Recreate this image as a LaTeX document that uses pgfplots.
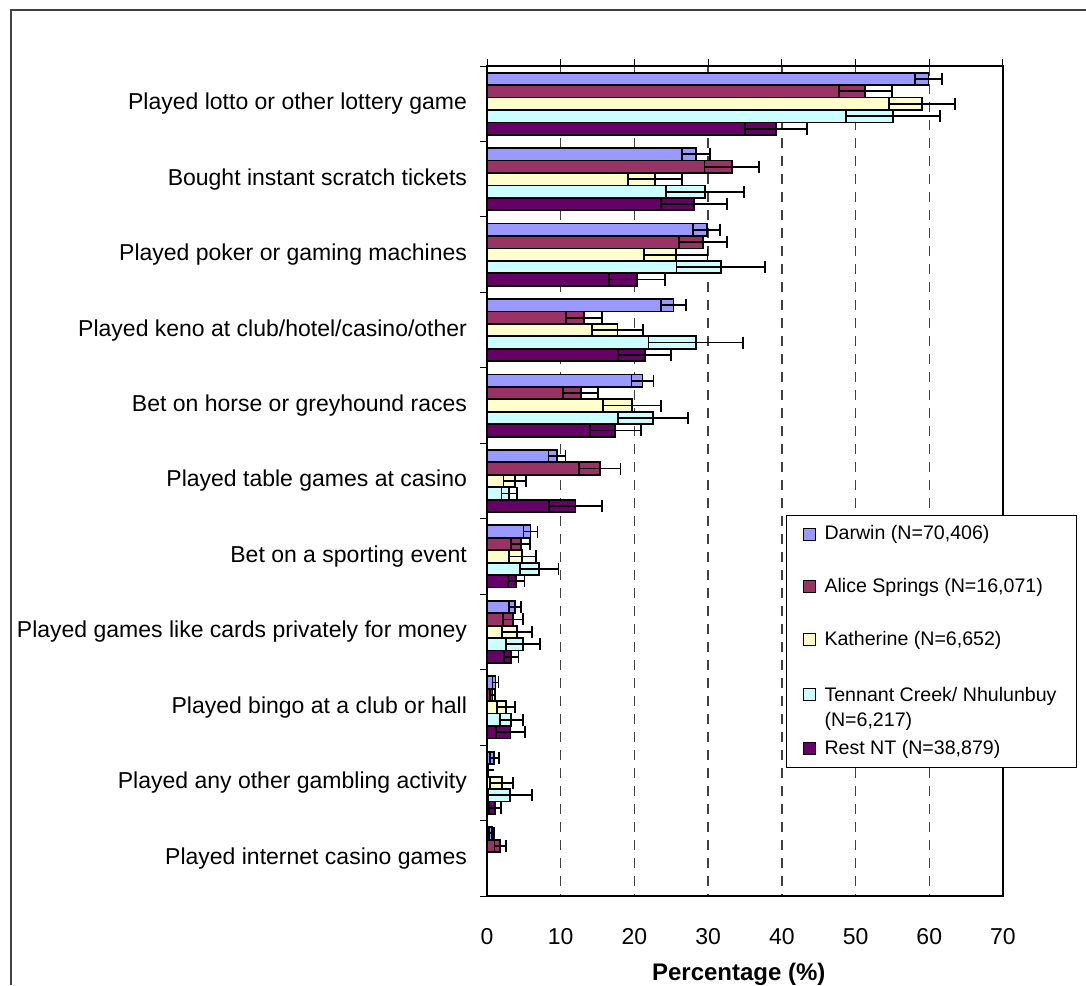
\documentclass[border=0pt]{standalone}
\usepackage{fontspec}
\setmainfont{Liberation Sans}
\usepackage{pgfplots}
\pgfplotsset{compat=1.18}

\definecolor{cDarwin}{HTML}{9999FF}
\definecolor{cAlice}{HTML}{993366}
\definecolor{cKath}{HTML}{FFFFCC}
\definecolor{cTennant}{HTML}{CCFFFF}
\definecolor{cRest}{HTML}{660066}

\newcommand{\lblfont}{\fontsize{11.5}{12.5}\selectfont}
\newcommand{\legfont}{\fontsize{9.8}{12.5}\selectfont}

\pgfplotsset{
  barstyle/.style={draw=black, line width=0.9pt, fill=#1},
  ebar/.style={error bars/.cd, x dir=both, x explicit,
    error bar style={line width=0.9pt, black},
    error mark=|,
    error mark options={rotate=0, line width=0.9pt, black, mark size=3pt}},
}

\begin{document}
\begin{tikzpicture}
\useasboundingbox (0pt,0pt) rectangle (543pt,492.5pt);
% chart area border (top and left edges)
\draw[line width=0.75pt, black!75] (5.5pt,0pt) -- (5.5pt,487.5pt) -- (543pt,487.5pt);
\begin{axis}[
  at={(243.5pt,44.5pt)}, anchor=south west,
  scale only axis, width=258pt, height=415pt,
  xbar, bar width=0.165,
  xmin=0, xmax=70, ymin=-0.5, ymax=10.5, y dir=reverse,
  xtick={0,10,...,70},
  xtick pos=right, xticklabel pos=left,
  ytick={0,...,10}, ytick pos=left,
  minor ytick={-0.5,0.5,...,10.5},
  major y tick style={draw=none},
  tick align=outside,
  major tick length=3.5pt, minor tick length=3.5pt,
  tick style={black, line width=0.5pt},
  yticklabels={
    Played lotto or other lottery game,
    Bought instant scratch tickets,
    Played poker or gaming machines,
    Played keno at club/hotel/casino/other,
    Bet on horse or greyhound races,
    Played table games at casino,
    Bet on a sporting event,
    Played games like cards privately for money,
    Played bingo at a club or hall,
    Played any other gambling activity,
    Played internet casino games},
  ticklabel style={font=\lblfont},
  yticklabel style={xshift=-3pt},
  xticklabel style={yshift=-9pt},
  /pgf/number format/assume math mode=true,
  xmajorgrids,
  grid style={dash pattern=on 5pt off 4pt, black!75, line width=0.7pt},
  axis line style={line width=1pt},
  xlabel={\textbf{Percentage (\%)}},
  xlabel style={font=\fontsize{12}{14}\selectfont, at={(axis description cs:0.488,0)}, anchor=center, yshift=-39pt},
  legend image code/.code={\draw[#1, line width=0.5pt] (4.5pt,-3pt) rectangle (10.5pt,3pt);},
  legend style={at={(0.5795,0.459)}, anchor=north west, draw=black, line width=0.5pt,
    font=\legfont, row sep=13.8pt, column sep=2.5pt, inner xsep=8pt, inner ysep=3pt,
    cells={anchor=west, align=left}},
]
% Darwin
\addplot[barstyle=cDarwin, bar shift=-0.33, ebar] table[x=v, y=c, x error=e] {
c v e
0 59.9 1.8
1 28.35 1.85
2 29.8 1.8
3 25.3 1.65
4 21.1 1.5
5 9.5 1.15
6 5.9 0.95
7 3.8 0.77
8 1.15 0.4
9 1.0 0.6
10 0.65 0.35
};
% Alice Springs
\addplot[barstyle=cAlice, bar shift=-0.165, ebar] table[x=v, y=c, x error=e] {
c v e
0 51.3 3.6
1 33.2 3.7
2 29.3 3.3
3 13.15 2.4
4 12.7 2.35
5 15.3 2.8
6 4.57 1.3
7 3.55 1.35
8 0.75 0.35
9 0.2 0
10 1.8 0.77
};
% Katherine
\addplot[barstyle=cKath, bar shift=0, ebar] table[x=v, y=c, x error=e] {
c v e
0 59.0 4.45
1 22.8 3.7
2 25.6 4.3
3 17.7 3.5
4 19.7 3.95
5 3.75 1.5
6 4.8 1.8
7 4.05 2.05
8 2.6 1.2
9 2.0 1.55
};
% Tennant Creek / Nhulunbuy
\addplot[barstyle=cTennant, bar shift=0.165, ebar] table[x=v, y=c, x error=e] {
c v e
0 55.1 6.4
1 29.6 5.3
2 31.7 6.0
3 28.3 6.4
4 22.5 4.75
5 3.0 1.03
6 7.1 2.6
7 4.84 2.3
8 3.3 1.55
9 3.1 3.0
};
% Rest of NT
\addplot[barstyle=cRest, bar shift=0.33, ebar] table[x=v, y=c, x error=e] {
c v e
0 39.2 4.2
1 28.1 4.5
2 20.4 3.8
3 21.4 3.6
4 17.4 3.45
5 12.0 3.6
6 3.95 1.15
7 3.28 1.0
8 3.2 1.95
9 1.1 0.85
};
\legend{{Darwin (N=70,406)}, {Alice Springs (N=16,071)}, {Katherine (N=6,652)},
  {\raisebox{0pt}[\height][4.25pt]{\begin{tabular}[t]{@{}l@{}}Tennant Creek/ Nhulunbuy\\(N=6,217)\end{tabular}}},
  {Rest NT (N=38,879)}}
\end{axis}
\end{tikzpicture}
\end{document}
